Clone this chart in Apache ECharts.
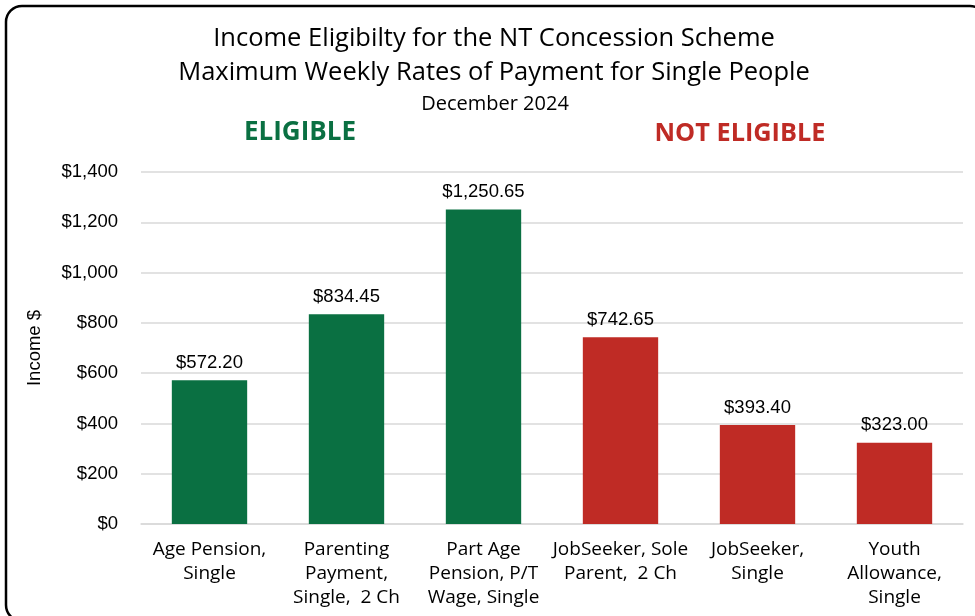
<!DOCTYPE html>
<html><head><meta charset="utf-8">
<script src="https://cdn.jsdelivr.net/npm/echarts@6/dist/echarts.min.js"></script>
<style>html,body{margin:0;padding:0;background:#fff}#c{width:975px;height:616px}</style>
</head><body><div id="c"></div>
<script>
const categories = ["Age Pension,\nSingle", "Parenting\nPayment,\nSingle,  2 Ch", "Part Age\nPension, P/T\nWage, Single", "JobSeeker, Sole\nParent,  2 Ch", "JobSeeker,\nSingle", "Youth\nAllowance,\nSingle"];
const values = [572.20, 834.45, 1250.65, 742.65, 393.40, 323.00];
const eligible = [true, true, true, false, false, false];
const GREEN = '#0A7042', RED = '#BF2B25';
const sans = "'Open Sans', Roboto, sans-serif";
const arial = "'Liberation Sans', Arial, sans-serif";
const chart = echarts.init(document.getElementById('c'), null, {renderer: 'canvas'});
chart.setOption({
  animation: false,
  backgroundColor: '#fff',
  title: [
    {text: 'Income Eligibilty for the NT Concession Scheme', left: 489, top: 21, padding: 5, textAlign: 'center',
     textStyle: {fontFamily: sans, fontSize: 25.5, fontWeight: 'normal', color: '#000'}},
    {text: 'Maximum Weekly Rates of Payment for Single People', left: 489, top: 55, padding: 5, textAlign: 'center',
     textStyle: {fontFamily: sans, fontSize: 25.5, fontWeight: 'normal', color: '#000'}},
    {text: 'December 2024', left: 490, top: 89, padding: 5, textAlign: 'center',
     textStyle: {fontFamily: sans, fontSize: 20, fontWeight: 'normal', color: '#000'}},
    {text: 'ELIGIBLE', left: 295, top: 115, padding: 5, textAlign: 'center',
     textStyle: {fontFamily: sans, fontSize: 26, fontWeight: 'bold', color: GREEN}},
    {text: 'NOT ELIGIBLE', left: 735, top: 116, padding: 5, textAlign: 'center',
     textStyle: {fontFamily: sans, fontSize: 25.3, fontWeight: 'bold', color: RED}}
  ],
  graphic: [{
    type: 'rect', shape: {x: 6, y: 6, width: 980, height: 615, r: 16},
    style: {fill: 'none', stroke: '#000', lineWidth: 2.5}, z: 100
  }],
  grid: {left: 141, right: 12, top: 172, bottom: 92},
  xAxis: {
    type: 'category', data: categories,
    axisLine: {show: true, lineStyle: {color: '#D9D9D9', width: 1.5}},
    axisTick: {show: false},
    axisLabel: {interval: 0, margin: 14, lineHeight: 24, fontFamily: sans, fontSize: 19, color: '#000'}
  },
  yAxis: {
    type: 'value', min: 0, max: 1400, interval: 200,
    name: 'Income $', nameLocation: 'middle', nameGap: 97, nameRotate: 90,
    nameTextStyle: {fontFamily: arial, fontSize: 18.5, color: '#000'},
    axisLabel: {fontFamily: arial, fontSize: 18.5, color: '#000', margin: 23,
      formatter: v => '$' + v.toLocaleString('en-US')},
    splitLine: {lineStyle: {color: '#D9D9D9', width: 1.5}},
    axisLine: {show: false}, axisTick: {show: false}
  },
  series: [{
    type: 'bar', barWidth: '55%',
    data: values.map((v, i) => ({value: v, itemStyle: {color: eligible[i] ? GREEN : RED}})),
    label: {show: true, position: 'top', distance: 8, fontFamily: arial,
      fontSize: 18.5, color: '#000',
      formatter: p => '$' + p.value.toLocaleString('en-US', {minimumFractionDigits: 2, maximumFractionDigits: 2})}
  }]
});
</script></body></html>
